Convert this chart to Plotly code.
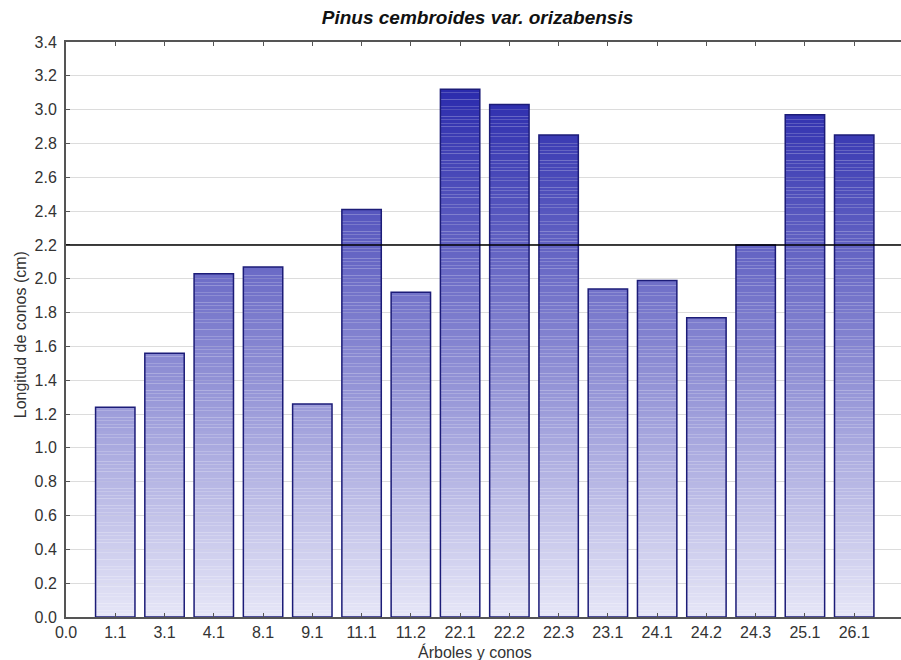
import numpy as np
import plotly.graph_objects as go

categories = ["1.1", "3.1", "4.1", "8.1", "9.1", "11.1", "11.2", "22.1",
              "22.2", "22.3", "23.1", "24.1", "24.2", "24.3", "25.1", "26.1"]
values = [1.24, 1.56, 2.03, 2.07, 1.26, 2.41, 1.92, 3.12,
          3.03, 2.85, 1.94, 1.99, 1.77, 2.20, 2.97, 2.85]
reference_value = 2.2
y_ticks = [round(0.2 * i, 1) for i in range(18)]

positions = np.arange(1, len(categories) + 1)
ymax = 3.4
step = 0.02

c_low = np.array([230, 230, 247])
c_high = np.array([26, 26, 166])

def col(v):
    t = min(max(v / ymax, 0), 1)
    c = c_low + t * (c_high - c_low)
    return "rgb(%d,%d,%d)" % tuple(c.round().astype(int))

seg_x, seg_base, seg_h, seg_c = [], [], [], []
for p, v in zip(positions, values):
    n = int(np.ceil(v / step))
    for k in range(n):
        b = k * step
        h = min(step, v - b)
        seg_x.append(p)
        seg_base.append(b)
        seg_h.append(h)
        seg_c.append(col(b + h / 2))

fig = go.Figure()
fig.add_trace(go.Bar(x=seg_x, y=seg_h, base=seg_base, width=0.8,
                     marker=dict(color=seg_c, line=dict(width=0)),
                     hoverinfo="skip", showlegend=False))
fig.add_trace(go.Bar(x=positions, y=values, width=0.8,
                     marker=dict(color="rgba(0,0,0,0)",
                                 line=dict(color="#1c1c78", width=1.5)),
                     showlegend=False))
fig.update_layout(barmode="overlay")

fig.add_shape(type="line", xref="paper", x0=0, x1=1, yref="y",
              y0=reference_value, y1=reference_value,
              line=dict(color="black", width=1.5))

fig.add_annotation(text="Árboles y conos", xref="paper", yref="paper",
                   x=0.49, y=0, yshift=-35, xanchor="center", yanchor="middle",
                   showarrow=False, font=dict(size=16, color="#333333"))
fig.add_annotation(text="Longitud de conos (cm)", xref="paper", yref="paper",
                   x=0, xshift=-46, y=0.49, textangle=-90,
                   xanchor="center", yanchor="middle",
                   showarrow=False, font=dict(size=16, color="#333333"))

fig.update_layout(
    width=901, height=660,
    margin=dict(l=66, r=0, t=42, b=43, autoexpand=False),
    plot_bgcolor="white", paper_bgcolor="white",
    font=dict(family="Liberation Sans, Arial, sans-serif", color="#333333", size=16),
    title=dict(text="<b><i>Pinus cembroides var. orizabensis</i></b>",
               x=0.53, xanchor="center", y=0.973, yanchor="middle",
               font=dict(size=19, color="#111111")),
    xaxis=dict(range=[0, 16.95], tickmode="array",
               tickvals=[0] + list(positions), ticktext=["0.0"] + categories,
               showgrid=False, zeroline=False, automargin=False,
               showline=True, linecolor="#555555", linewidth=2, mirror="ticks",
               ticks="inside", ticklen=4, tickcolor="#555555",
               tickfont=dict(size=16)),
    yaxis=dict(range=[0, 3.4], tickmode="array", tickvals=y_ticks,
               ticktext=["%.1f" % t for t in y_ticks],
               showgrid=True, gridcolor="#dcdcdc", gridwidth=1, zeroline=False,
               automargin=False,
               showline=True, linecolor="#555555", linewidth=2,
               ticks="inside", ticklen=4, tickcolor="#555555",
               ticklabelstandoff=4,
               tickfont=dict(size=16)),
)

fig.write_html("out.html", config={"displayModeBar": False},
               post_script="document.body.style.margin='0';document.body.style.overflow='hidden';")
